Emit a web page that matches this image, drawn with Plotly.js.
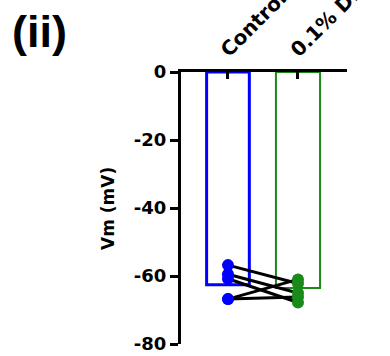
<!DOCTYPE html>
<html>
<head>
<meta charset="utf-8">
<script src="https://cdn.plot.ly/plotly-3.0.1.min.js"></script>
<style>html,body{margin:0;padding:0;background:#fff;}#chart{width:390px;height:356px;}</style>
</head>
<body>
<div id="chart"></div>
<script>
const categories = ["Control", "0.1% DMSO"];
const barMeans = [-62.6, -63.5];
const barColors = ["#0000FF", "#1A8A1A"];
const controlValues = [-56.8, -59.5, -60.8, -66.8, -66.8];
const dmsoValues = [-62.2, -65.0, -67.8, -61.0, -66.2];
const yTicks = [0, -20, -40, -60, -80];

const traces = [];
traces.push({
  type: "bar", x: [0], y: [barMeans[0]], width: 0.61,
  marker: {color: "rgba(255,255,255,0)", line: {color: barColors[0], width: 3}},
  hoverinfo: "skip", showlegend: false
});
traces.push({
  type: "bar", x: [1], y: [barMeans[1]], width: 0.63,
  marker: {color: "rgba(255,255,255,0)", line: {color: barColors[1], width: 2}},
  hoverinfo: "skip", showlegend: false
});
for (let i = 0; i < controlValues.length; i++) {
  traces.push({
    type: "scatter", mode: "lines", x: [0, 1], y: [controlValues[i], dmsoValues[i]],
    line: {color: "#000", width: 3}, showlegend: false, hoverinfo: "skip"
  });
}
traces.push({
  type: "scatter", mode: "markers", x: controlValues.map(() => 0), y: controlValues,
  marker: {color: barColors[0], size: 12}, showlegend: false
});
traces.push({
  type: "scatter", mode: "markers", x: dmsoValues.map(() => 1), y: dmsoValues,
  marker: {color: barColors[1], size: 12}, showlegend: false
});

const fam = "DejaVu Sans, sans-serif";
const layout = {
  width: 390, height: 356,
  margin: {l: 181, r: 43, t: 72, b: 12, pad: 0},
  paper_bgcolor: "#fff", plot_bgcolor: "#fff",
  barmode: "overlay",
  showlegend: false,
  font: {family: fam, size: 18, color: "#000"},
  xaxis: {
    side: "top", range: [-0.671, 1.7],
    tickvals: [0, 1], ticktext: categories.map(c => "<b>" + c + "</b>"),
    tickangle: -45, ticks: "inside", ticklen: 7, tickwidth: 3, tickcolor: "#000",
    ticklabeloverflow: "allow", ticklabelshift: -6,
    showline: true, linewidth: 3, linecolor: "#000",
    showgrid: false, zeroline: false, fixedrange: true,
    tickfont: {family: fam, size: 20, color: "#000"}
  },
  yaxis: {
    range: [-80, 0],
    tickvals: yTicks, ticktext: yTicks.map(v => "<b>" + v + "</b>"),
    ticks: "outside", ticklen: 8, tickwidth: 3, tickcolor: "#000",
    showline: true, linewidth: 3, linecolor: "#000",
    showgrid: false, zeroline: false, fixedrange: true,
    tickfont: {family: fam, size: 18, color: "#000"}
  },
  annotations: [
    {text: "<b>(ii)</b>", xref: "paper", yref: "paper", x: -0.855, y: 1.15,
     xanchor: "center", yanchor: "middle", showarrow: false,
     font: {family: "Liberation Sans, Arial, sans-serif", size: 45, color: "#000"}},
    {text: "<b>Vm (mV)</b>", xref: "paper", yref: "paper", x: -0.44, y: 0.5,
     xanchor: "center", yanchor: "middle", showarrow: false, textangle: -90,
     font: {family: fam, size: 17, color: "#000"}}
  ]
};
Plotly.newPlot("chart", traces, layout, {staticPlot: true, displayModeBar: false});
</script>
</body>
</html>
